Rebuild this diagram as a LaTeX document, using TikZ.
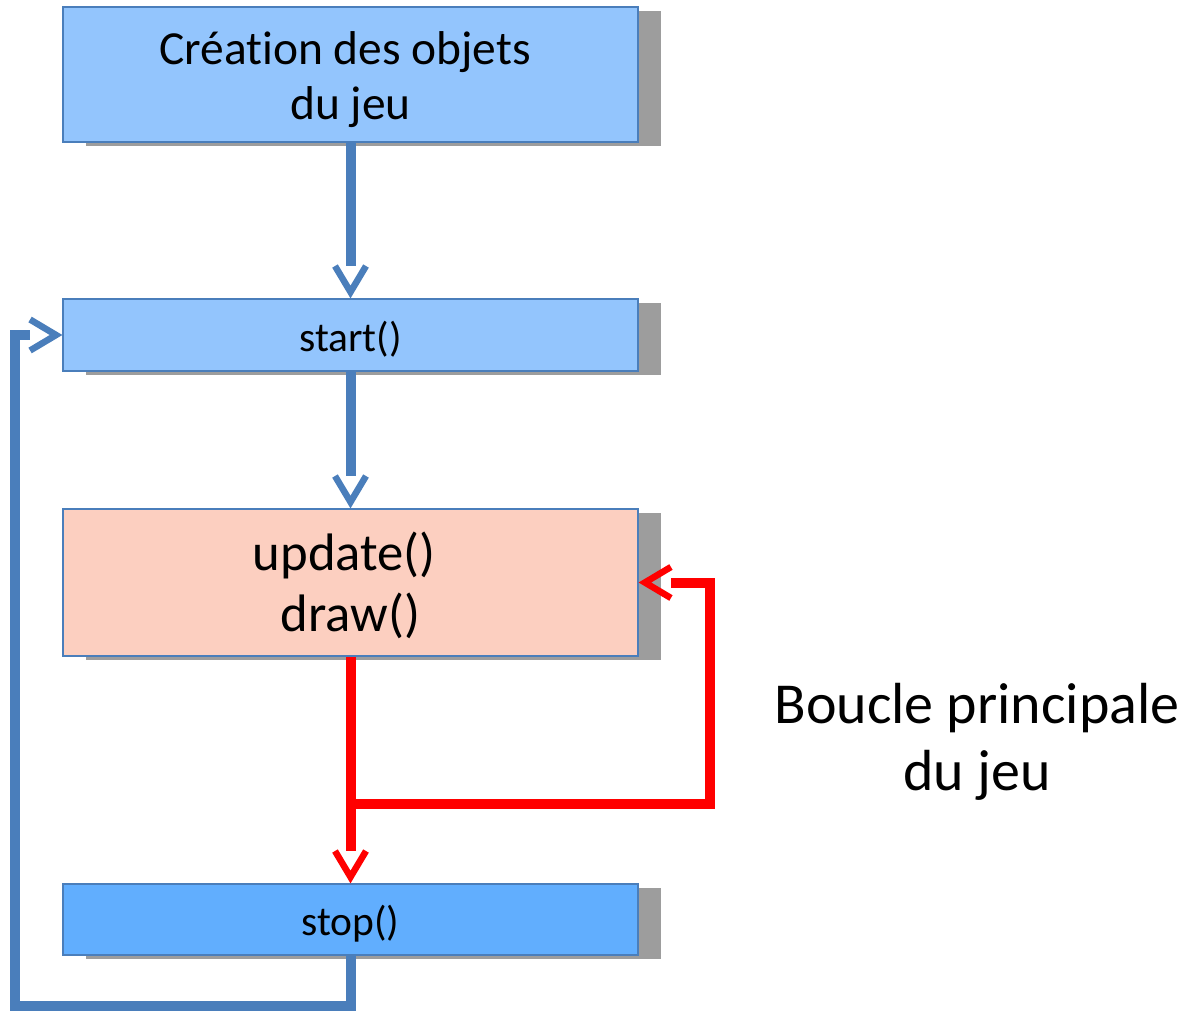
\documentclass[tikz,border=0pt]{standalone}
\usepackage{fontspec}
\setmainfont{Carlito}[Ligatures=NoCommon]
\usetikzlibrary{arrows.meta,shadows}
\definecolor{lightbox}{HTML}{93C5FD}
\definecolor{darkbox}{HTML}{61AEFE}
\definecolor{peachbox}{HTML}{FCCFC0}
\definecolor{edgeblue}{HTML}{4A7EBB}
\definecolor{shadowgray}{HTML}{9D9D9D}
% open chevron, the line stops at its back
\pgfdeclarearrow{
  name = Chevron,
  setup code = {
    \pgfarrowssettipend{0pt}
    \pgfarrowssetlineend{-0.64cm}
    \pgfarrowssetbackend{-0.66cm}
  },
  drawing code = {
    \pgfsetlinewidth{0.13cm}
    \pgfsetmiterjoin\pgfsetbuttcap
    \pgfpathmoveto{\pgfpoint{-0.64cm}{0.31cm}}
    \pgfpathlineto{\pgfpoint{-0.12cm}{0cm}}
    \pgfpathlineto{\pgfpoint{-0.64cm}{-0.31cm}}
    \pgfusepathqstroke
  }
}
\newcommand{\boxtext}[1]{\raisebox{-0.13cm}[\height][\depth]{\begin{tabular}{@{}c@{}}#1\end{tabular}}}
\begin{document}
\begin{tikzpicture}[x=0.02cm,y=-0.02cm,
    box/.style={draw=edgeblue,line width=0.04cm,inner sep=0pt,minimum width=11.5cm,
        drop shadow={shadow xshift=0.46cm,shadow yshift=-0.08cm,fill=shadowgray,opacity=1}},
    flow/.style={line width=0.2cm,draw=edgeblue,-Chevron},
    loopflow/.style={flow,draw=red}]
    \useasboundingbox (0,0) rectangle (1184,1011);
    \node[box,fill=lightbox,minimum height=2.7cm,font=\fontsize{27}{31.2}\selectfont] (creation) at (350.5,74.5) {\boxtext{Création des objets\kern0.23em\\du jeu}};
    \node[box,fill=lightbox,minimum height=1.44cm,font=\fontsize{23.6}{28}\selectfont] (start) at (350.5,335) {\boxtext{start()}};
    \node[box,fill=peachbox,minimum height=2.94cm,font=\fontsize{30}{34.6}\selectfont] (update) at (350.5,582.5) {\boxtext{update()\kern0.23em\\draw()}};
    \node[box,fill=darkbox,minimum height=1.42cm,font=\fontsize{23.6}{28}\selectfont] (stop) at (350.5,919.5) {\boxtext{stop()}};
    \node[align=center,font=\fontsize{33}{38.5}\selectfont] (label) at (977,742) {Boucle principale\\du jeu};
    %
    \draw[flow] (creation) -- (start);
    \draw[flow] (start) -- (update);
    \draw[loopflow] (update) -- (stop);
    %
    \coordinate (fork) at (350.5,804);
    \coordinate (redturn) at (709.5,804);
    \draw[loopflow] (fork) -- (redturn) |- (update.east);
    %
    \coordinate (backdown) at (350.5,1006);
    \coordinate (backleft) at (15,1006);
    \draw[flow] (stop.south) -- (backdown) -- (backleft) |- (start.west);
\end{tikzpicture}
\end{document}
